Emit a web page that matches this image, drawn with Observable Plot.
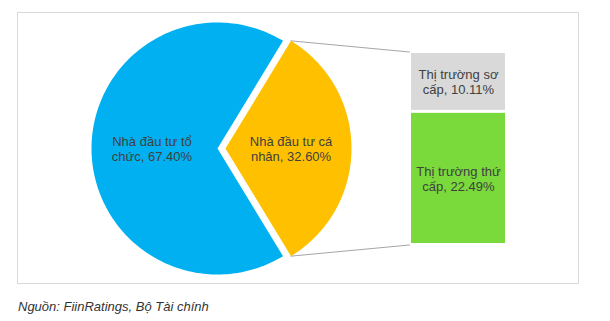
<!DOCTYPE html>
<html>
<head>
<meta charset="utf-8">
<script src="https://cdn.jsdelivr.net/npm/d3@7"></script>
<script src="https://cdn.jsdelivr.net/npm/@observablehq/plot@0.6"></script>
<style>
  body { margin: 0; background: #fff; font-family: "Liberation Sans", Arial, sans-serif; }
  #chart svg { display: block; }
  .caption { font-size: 13px; font-style: italic; color: #333; line-height: 15px; margin-top: 9px; padding-left: 18px; }
</style>
</head>
<body>
<div id="chart"></div>
<div class="caption">Nguồn: FiinRatings, Bộ Tài chính</div>
<script>
// ---- data ----
const pieCategories = ["Nhà đầu tư tổ\nchức", "Nhà đầu tư cá\nnhân"];
const pieShares = [67.40, 32.60];
const barCategories = ["Thị trường sơ\ncấp", "Thị trường thứ\ncấp"];
const barShares = [10.11, 22.49];

// ---- layout (pixels) ----
const W = 610, H = 290;
const frameL = 17, frameR = 578, frameT = 12, frameB = 283;
const barTopPx = 51.5, barBottomPx = 244.5, barLeftPx = 411, barRightPx = 505;
const pieCxPx = 217, rPx = 126, explodePx = 8;

const total = d3.sum(barShares);
const k = (barBottomPx - barTopPx) / total;       // pixels per unit (both axes)
const xu = px => (px - frameL) / k;
const yu = px => (barBottomPx - px) / k;

const cx = xu(pieCxPx), cy = total / 2, r = rPx / k, off = explodePx / k;
const bx0 = xu(barLeftPx), bx1 = xu(barRightPx);

// ---- pie slices from data ----
const pieTotal = d3.sum(pieShares);
const splitAngle = 2 * Math.PI * pieShares[1] / pieTotal;
const half = splitAngle / 2;
const slices = [
  {name: pieCategories[0], value: pieShares[0], a0: half, a1: 2 * Math.PI - half, dx: 0},
  {name: pieCategories[1], value: pieShares[1], a0: -half, a1: half, dx: off}
];
const piePts = [];
for (const s of slices) {
  const ox = cx + s.dx;
  piePts.push({slice: s.name, x: ox, y: cy});
  const n = 180;
  for (let i = 0; i <= n; i++) {
    const t = s.a0 + (s.a1 - s.a0) * i / n;
    piePts.push({slice: s.name, x: ox + r * Math.cos(t), y: cy + r * Math.sin(t)});
  }
}
const pieLabels = slices.map(s => {
  const m = (s.a0 + s.a1) / 2;
  return {x: cx + s.dx + 0.52 * r * Math.cos(m), y: cy + 0.52 * r * Math.sin(m),
          text: `${s.name}, ${s.value.toFixed(2)}%`};
});

// ---- bar of pie ----
const bars = barCategories.map((c, i) => ({name: c, value: barShares[i]}));

// connector lines
const tipX = cx + off + r * Math.cos(half);
const connectors = [
  {id: "top", x: tipX, y: cy + r * Math.sin(half)},
  {id: "top", x: bx0 - 2 / k, y: total},
  {id: "bottom", x: tipX, y: cy - r * Math.sin(half)},
  {id: "bottom", x: bx0 - 2 / k, y: 0}
];

const colorDomain = [...pieCategories, ...barCategories];
const colorRange = ["#00B0F0", "#FFC000", "#D9D9D9", "#7AD93B"];

const plot = Plot.plot({
  width: W, height: H,
  marginLeft: frameL, marginRight: W - frameR, marginTop: frameT, marginBottom: H - frameB,
  x: {domain: [xu(frameL), xu(frameR)], axis: null},
  y: {domain: [yu(frameB), yu(frameT)], axis: null},
  color: {domain: colorDomain, range: colorRange},
  style: {fontFamily: "'Liberation Sans', Arial, sans-serif", background: "#fff"},
  marks: [
    Plot.frame({stroke: "#d9d9d9"}),
    Plot.line(connectors, {x: "x", y: "y", z: "id", stroke: "#a6a6a6", strokeWidth: 1}),
    Plot.line(piePts, {x: "x", y: "y", z: "slice", fill: "slice", stroke: "none", curve: "linear-closed"}),
    Plot.rectY(bars, Plot.stackY({
      x1: () => bx0, x2: () => bx1, y: "value", fill: "name", reverse: true,
      insetTop: 1.5, insetBottom: 1.5
    })),
    Plot.text(pieLabels, {x: "x", y: "y", text: "text", fontSize: 13, fill: "#404040", lineHeight: 1.15}),
    Plot.text(bars, Plot.stackY({
      x: () => (bx0 + bx1) / 2, y: "value", reverse: true,
      text: d => `${d.name}, ${d.value.toFixed(2)}%`,
      fontSize: 13, fill: "#404040", lineHeight: 1.15
    }))
  ]
});
document.getElementById("chart").appendChild(plot);
</script>
</body>
</html>
